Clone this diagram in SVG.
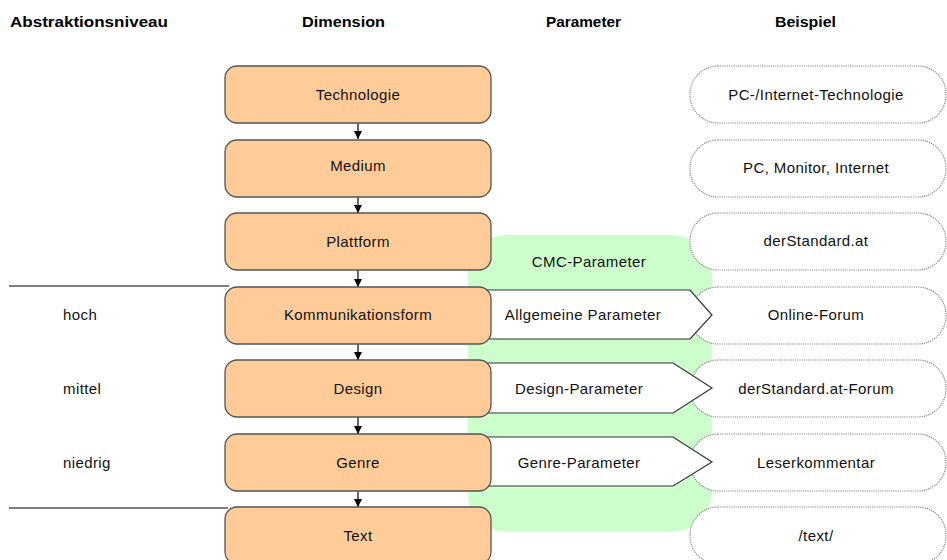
<svg xmlns="http://www.w3.org/2000/svg" width="947" height="560" viewBox="0 0 947 560">
<defs>
<style>
.hdr{font-family:"Liberation Sans",Arial,sans-serif;font-size:14px;font-weight:bold;fill:#000}
.t{font-family:"Liberation Sans",Arial,sans-serif;font-size:15px;letter-spacing:0.4px;fill:#111}
.box{fill:#ffcc99;stroke:#555;stroke-width:1.3}
.pill{fill:#fff;stroke:#888;stroke-width:1.2;stroke-dasharray:1.2 1}
.pent{fill:#fff;stroke:#333;stroke-width:1.2}
.conn{stroke:#000;stroke-width:1.2;fill:none}
.rule{stroke:#555;stroke-width:1.3}
</style>
<marker id="ah" viewBox="0 0 8 8" refX="8" refY="4" markerWidth="8" markerHeight="8" markerUnits="userSpaceOnUse" orient="auto">
<path d="M0,0 L8,4 L0,8 Z" fill="#000"/>
</marker>
</defs>
<rect width="947" height="560" fill="#fff"/>

<g id="headers">
<text class="hdr" x="10" y="27" textLength="158" lengthAdjust="spacingAndGlyphs">Abstraktionsniveau</text>
<text class="hdr" x="302" y="27" textLength="83" lengthAdjust="spacingAndGlyphs">Dimension</text>
<text class="hdr" x="546" y="27" textLength="75" lengthAdjust="spacingAndGlyphs">Parameter</text>
<text class="hdr" x="775" y="27" textLength="61" lengthAdjust="spacingAndGlyphs">Beispiel</text>
</g>

<g id="levels">
<line class="rule" x1="9" y1="286" x2="229" y2="286"/>
<line class="rule" x1="9" y1="508" x2="228" y2="508"/>
<text class="t" x="63" y="320">hoch</text>
<text class="t" x="63" y="394">mittel</text>
<text class="t" x="63" y="468">niedrig</text>
</g>

<g id="cmc">
<path d="M506,235 H672 A40,40 0 0 1 712,275 V492 A40,40 0 0 1 672,532 H506 A38,38 0 0 1 468,494 V273 A38,38 0 0 1 506,235 Z" fill="#ccffcc"/>
<text class="t" x="589" y="267" text-anchor="middle">CMC-Parameter</text>
</g>

<g id="ex-technologie"><rect class="pill" x="690" y="66" width="256" height="57" rx="28"/><text class="t" x="816" y="100" text-anchor="middle">PC-/Internet-Technologie</text></g>
<g id="ex-medium"><rect class="pill" x="690" y="140" width="256" height="57" rx="28"/><text class="t" x="816" y="173" text-anchor="middle">PC, Monitor, Internet</text></g>
<g id="ex-plattform"><rect class="pill" x="690" y="213" width="256" height="57" rx="28"/><text class="t" x="816" y="246" text-anchor="middle">derStandard.at</text></g>
<g id="ex-kommunikationsform"><rect class="pill" x="690" y="287" width="256" height="57" rx="28"/><text class="t" x="816" y="320" text-anchor="middle">Online-Forum</text></g>
<g id="ex-design"><rect class="pill" x="690" y="360" width="256" height="57" rx="28"/><text class="t" x="816" y="394" text-anchor="middle">derStandard.at-Forum</text></g>
<g id="ex-genre"><rect class="pill" x="690" y="434" width="256" height="57" rx="28"/><text class="t" x="816" y="468" text-anchor="middle">Leserkommentar</text></g>
<g id="ex-text"><rect class="pill" x="690" y="507" width="256" height="57" rx="28"/><text class="t" x="816" y="541" text-anchor="middle">/text/</text></g>

<g id="param-allgemein">
<polygon class="pent" points="480,290 690,290 712,315 690,339 480,339"/>
<text class="t" x="583" y="320" text-anchor="middle">Allgemeine Parameter</text>
</g>
<g id="param-design">
<polygon class="pent" points="480,363 673,363 712,388 673,413 480,413"/>
<text class="t" x="579" y="394" text-anchor="middle">Design-Parameter</text>
</g>
<g id="param-genre">
<polygon class="pent" points="480,437 673,437 712,462 673,486 480,486"/>
<text class="t" x="579" y="468" text-anchor="middle">Genre-Parameter</text>
</g>

<g id="connectors">
<line class="conn" x1="358" y1="123" x2="358" y2="139" marker-end="url(#ah)"/>
<line class="conn" x1="358" y1="197" x2="358" y2="213" marker-end="url(#ah)"/>
<line class="conn" x1="358" y1="270" x2="358" y2="287" marker-end="url(#ah)"/>
<line class="conn" x1="358" y1="344" x2="358" y2="360" marker-end="url(#ah)"/>
<line class="conn" x1="358" y1="417" x2="358" y2="434" marker-end="url(#ah)"/>
<line class="conn" x1="358" y1="491" x2="358" y2="507" marker-end="url(#ah)"/>
</g>

<g id="dim-technologie"><rect class="box" x="225" y="66" width="266" height="57" rx="12"/><text class="t" x="358" y="100" text-anchor="middle">Technologie</text></g>
<g id="dim-medium"><rect class="box" x="225" y="140" width="266" height="57" rx="12"/><text class="t" x="358" y="171" text-anchor="middle">Medium</text></g>
<g id="dim-plattform"><rect class="box" x="225" y="213" width="266" height="57" rx="12"/><text class="t" x="358" y="247" text-anchor="middle">Plattform</text></g>
<g id="dim-kommunikationsform"><rect class="box" x="225" y="287" width="266" height="57" rx="12"/><text class="t" x="358" y="320" text-anchor="middle">Kommunikationsform</text></g>
<g id="dim-design"><rect class="box" x="225" y="360" width="266" height="57" rx="12"/><text class="t" x="358" y="394" text-anchor="middle">Design</text></g>
<g id="dim-genre"><rect class="box" x="225" y="434" width="266" height="57" rx="12"/><text class="t" x="358" y="468" text-anchor="middle">Genre</text></g>
<g id="dim-text"><rect class="box" x="225" y="507" width="266" height="57" rx="12"/><text class="t" x="358" y="541" text-anchor="middle">Text</text></g>
</svg>
